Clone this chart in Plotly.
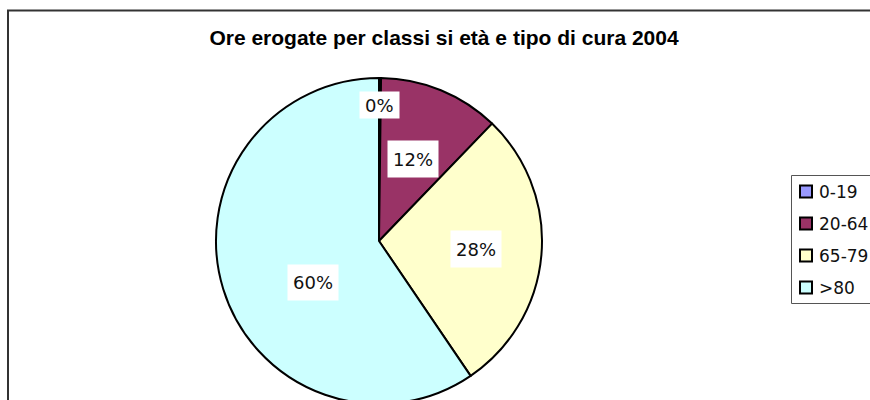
import math
import plotly.graph_objects as go

# ---- data ----
categories = ["0-19", "20-64", "65-79", ">80"]
values = [0.2, 12.0, 28.3, 59.5]
title_text = "Ore erogate per classi si età e tipo di cura 2004"

# ---- styles ----
colors = ["#9999FF", "#993366", "#FFFFCC", "#CCFFFF"]
W, H = 870, 410                       # page clips to 870x400
CX, CY, R = 379, 241, 163             # pie centre / radius (px)
LABEL_R = [0.835, 0.545, 0.60, 0.475]  # label radius as fraction of R
LABEL_DA = [0, 0, 0, -15]              # label angle adjustment (deg)
LABEL_BOX_H = [16, 26, 26, 25]         # label box text heights


def px(x):
    return x / W


def py(y):
    return 1 - y / H


fig = go.Figure()
fig.add_trace(go.Pie(
    labels=categories, values=values, sort=False, direction="clockwise",
    rotation=0, textinfo="none", showlegend=False,
    marker=dict(colors=colors, line=dict(color="black", width=2)),
    domain=dict(x=[px(CX - R), px(CX + R)], y=[py(CY + R), py(CY - R)]),
))

# percentage labels from the values
total = sum(values)
cum = 0.0
annotations = []
for i, v in enumerate(values):
    mid = (cum + v / 2) / total * 360 + LABEL_DA[i]
    cum += v
    r = LABEL_R[i] * R
    lx = CX + r * math.sin(math.radians(mid))
    ly = CY - r * math.cos(math.radians(mid))
    annotations.append(dict(
        x=px(lx), y=py(ly), xref="paper", yref="paper", showarrow=False,
        text=f"{round(v / total * 100)}%", bgcolor="white", borderpad=5,
        height=LABEL_BOX_H[i], valign="middle",
        font=dict(family="DejaVu Sans", size=18, color="#111"),
        xanchor="center", yanchor="middle"))

shapes = []
# chart frame
shapes.append(dict(type="rect", xref="paper", yref="paper",
                   x0=px(8), x1=1.02, y0=-0.02, y1=py(10.5),
                   line=dict(color="#333", width=2), fillcolor="rgba(0,0,0,0)"))
# legend box
shapes.append(dict(type="rect", xref="paper", yref="paper",
                   x0=px(791.5), x1=1.02, y0=py(303.5), y1=py(175.5),
                   line=dict(color="#555", width=1), fillcolor="white"))
LEG_Y0, LEG_DY = 191.5, 32
for i, cat in enumerate(categories):
    yc = LEG_Y0 + i * LEG_DY
    shapes.append(dict(type="rect", xref="paper", yref="paper",
                       x0=px(800), x1=px(812), y0=py(yc + 6), y1=py(yc - 6),
                       line=dict(color="black", width=2), fillcolor=colors[i]))
    annotations.append(dict(
        x=px(817), y=py(yc), xref="paper", yref="paper", showarrow=False,
        text=cat, xanchor="left", yanchor="middle",
        font=dict(family="DejaVu Sans", size=17, color="#111")))

fig.update_layout(
    width=W, height=H, margin=dict(l=0, r=0, t=0, b=0),
    paper_bgcolor="white", plot_bgcolor="white",
    title=dict(text=title_text, x=px(444), y=py(38), xanchor="center",
               yanchor="middle", xref="paper", yref="paper",
               font=dict(family="Liberation Sans", size=21, weight="bold", color="black")),
    shapes=shapes, annotations=annotations, showlegend=False,
)

fig.write_html(
    "out.html",
    config={"displayModeBar": False},
    post_script=("document.body.style.margin='0';"
                 "document.body.style.overflow='hidden';"
                 "document.documentElement.style.overflow='hidden';"),
)
